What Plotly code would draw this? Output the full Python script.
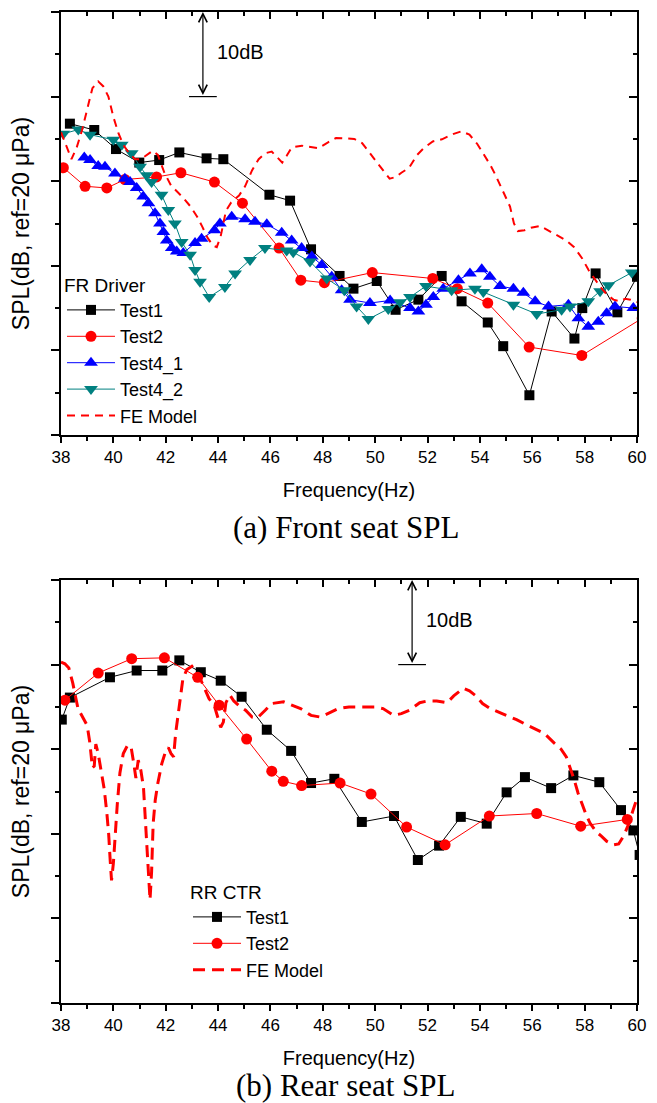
import plotly.graph_objects as go

# ---------------- data: (a) front seat ----------------
a_t1_f = [38.34, 39.27, 40.10, 40.99, 41.75, 42.52, 43.56, 44.20, 45.96, 46.75, 47.55, 48.64, 49.17,
          50.06, 50.78, 51.65, 52.54, 53.30, 54.30, 54.89, 55.89, 56.74, 57.61, 57.91, 58.42, 59.25, 60.0]
a_t1_s = [76.8, 76.05, 73.8, 72.2, 72.5, 73.4, 72.7, 72.6, 68.4, 67.7, 61.95, 58.8, 57.3,
          58.2, 54.8, 56.0, 58.8, 55.8, 53.3, 50.5, 44.7, 54.6, 51.4, 55.0, 59.1, 54.5, 58.7]

a_t2_f = [38.09, 38.92, 39.75, 40.44, 41.65, 42.58, 43.86, 44.93, 46.33, 47.16, 48.06, 49.89,
          52.20, 53.14, 54.30, 55.88, 57.89, 60.2]
a_t2_s = [71.6, 69.4, 69.2, 70.2, 70.5, 71.0, 69.9, 67.4, 62.1, 58.3, 58.0, 59.2,
          58.5, 57.3, 55.6, 50.4, 49.4, 53.8]

a_t41_f = [38.89, 39.11, 39.42, 39.68, 40.06, 40.44, 40.64, 40.89, 41.14, 41.34, 41.59, 41.78, 41.91,
           42.04, 42.23, 42.42, 42.67, 43.12, 43.37, 43.86, 44.07, 44.52, 45.03, 45.41, 45.86, 46.43,
           46.81, 47.19, 47.58, 47.96, 48.34, 48.72, 49.04, 49.80, 50.57, 51.33, 51.65, 51.94, 52.22,
           52.60, 53.18, 53.62, 54.07, 54.38, 54.77, 55.28, 55.66, 56.11, 56.62, 57.38, 57.76, 58.14,
           58.52, 58.84, 59.16, 59.86]
a_t41_s = [72.8, 72.5, 71.8, 71.7, 70.9, 70.3, 69.9, 69.2, 68.2, 67.4, 66.2, 65.0, 64.0,
           63.0, 62.1, 61.7, 61.5, 62.7, 63.2, 64.2, 65.0, 65.8, 65.5, 65.2, 64.9, 63.9,
           63.0, 62.1, 61.1, 60.1, 58.7, 57.1, 56.0, 55.6, 55.9, 55.0, 54.6, 55.4, 56.3,
           57.3, 58.3, 59.1, 59.6, 58.7, 57.6, 57.3, 56.8, 55.8, 55.2, 55.4, 53.8, 52.8,
           53.4, 54.4, 55.2, 55.0]

a_t42_f = [38.09, 38.66, 39.11, 40.00, 40.32, 40.70, 41.02, 41.27, 41.46, 41.84, 42.10, 42.35, 42.61,
           42.93, 43.12, 43.31, 43.66, 44.26, 44.65, 45.22, 45.79, 46.62, 46.87, 47.51, 48.15, 48.82,
           49.29, 49.74, 50.50, 50.95, 51.33, 51.94, 52.92, 53.81, 54.13, 55.28, 56.17, 57.12, 57.44,
           58.14, 58.59, 58.91, 59.80]
a_t42_s = [75.6, 76.1, 75.5, 74.9, 74.3, 73.3, 71.7, 70.7, 69.9, 68.4, 66.6, 65.0, 62.8,
           61.3, 59.5, 58.1, 56.3, 57.5, 59.1, 60.7, 62.1, 61.8, 61.6, 60.5, 58.5, 57.1,
           55.2, 53.7, 54.9, 55.7, 56.3, 57.6, 57.1, 57.3, 56.9, 55.4, 54.3, 54.8, 55.2,
           55.8, 57.0, 57.7, 59.2]

a_fe_f = [38.0, 38.2, 38.4, 38.6, 38.8, 39.0, 39.2, 39.42, 39.62, 39.81, 40.0, 40.19, 40.38, 40.6, 40.83,
          41.05, 41.3, 41.5, 41.7, 41.95, 42.2, 42.4, 42.65, 42.95, 43.2, 43.4, 43.6, 43.8, 43.95, 44.1,
          44.3, 44.5, 44.8, 45.03, 45.3, 45.55, 45.8, 46.05, 46.25, 46.45, 46.62, 46.81, 47.2, 47.83,
          48.2, 48.5, 49.2, 49.5, 49.7, 50.0, 50.3, 50.55, 50.8, 51.0, 51.3, 51.6, 51.85, 52.2, 52.55,
          53.0, 53.3, 53.6, 53.9, 54.2, 54.4, 54.6, 54.8, 55.0, 55.15, 55.3, 55.45, 55.7, 55.95, 56.3,
          56.6, 56.95, 57.3, 57.6, 57.9, 58.15, 58.35, 58.6, 58.85, 59.1, 59.35, 59.55, 59.75, 60.0]
a_fe_s = [75.8, 74.3, 72.6, 74.0, 76.0, 78.5, 81.0, 81.8, 81.2, 80.0, 77.6, 75.7, 74.3, 73.3, 72.6,
          72.6, 73.2, 73.6, 73.1, 71.0, 69.5, 68.9, 68.1, 67.0, 65.8, 64.6, 63.3, 62.4, 62.2, 63.5,
          66.5, 67.5, 68.3, 69.4, 71.3, 72.6, 73.3, 73.5, 72.9, 72.2, 73.0, 74.0, 74.2, 73.9,
          74.6, 75.1, 75.0, 74.5, 73.7, 72.5, 71.3, 70.3, 70.5, 71.0, 71.6, 73.1, 73.9, 74.7, 74.95,
          75.6, 75.9, 75.5, 74.4, 72.9, 71.9, 70.7, 69.3, 68.1, 67.0, 65.0, 64.1, 64.2, 64.5, 64.7,
          64.2, 63.6, 63.0, 62.2, 60.9, 59.5, 58.6, 57.5, 56.6, 56.0, 55.8, 56.1, 56.0, 55.7]

# ---------------- data: (b) rear seat ----------------
b_t1_f = [38.03, 38.34, 39.87, 40.89, 41.87, 42.52, 43.34, 44.10, 44.90, 45.86, 46.79, 47.55, 48.44,
          49.49, 50.72, 51.63, 52.44, 53.27, 54.26, 55.02, 55.72, 56.72, 57.57, 58.56, 59.39, 59.86, 60.1]
b_t1_s = [73.5, 76.1, 78.5, 79.3, 79.3, 80.5, 79.1, 78.1, 76.2, 72.3, 69.8, 66.0, 66.5,
          61.4, 62.1, 56.9, 58.6, 62.0, 61.2, 64.9, 66.7, 65.4, 66.9, 66.1, 62.8, 60.4, 57.5]

b_t2_f = [38.15, 39.42, 40.70, 41.95, 43.22, 44.04, 45.09, 46.05, 46.49, 47.19, 48.66, 49.84,
          51.20, 52.67, 54.36, 56.17, 57.85, 59.63]
b_t2_s = [75.8, 79.0, 80.7, 80.8, 78.5, 75.2, 71.2, 67.4, 66.2, 65.7, 66.0, 64.7,
          60.8, 58.7, 62.1, 62.4, 60.9, 61.7]

b_fe_f = [38.0, 38.15, 38.3, 38.45, 38.65, 38.85, 39.0, 39.1, 39.2, 39.27, 39.33, 39.42, 39.55, 39.65,
          39.75, 39.82, 39.88, 39.93, 40.0, 40.07, 40.15, 40.25, 40.38, 40.55, 40.68, 40.78, 40.86,
          40.95, 41.05, 41.15, 41.22, 41.28, 41.34, 41.40, 41.46, 41.52, 41.6, 41.7, 41.85, 41.97,
          42.1, 42.2, 42.3, 42.38, 42.47, 42.55, 42.65, 42.8, 43.0, 43.24, 43.43, 43.65, 43.85, 43.97,
          44.1, 44.2, 44.3, 44.45, 44.6, 44.85, 45.05, 45.3, 45.5, 45.8, 46.05, 46.5, 46.85, 47.15,
          47.55, 47.9, 48.25, 48.6, 49.0, 49.3, 49.7, 50.0, 50.3, 50.7, 51.0, 51.3, 51.7, 52.0, 52.35,
          52.75, 53.0, 53.37, 53.6, 53.85, 54.1, 54.4, 54.85, 55.1, 55.4, 55.9, 56.15, 56.45, 56.85,
          57.1, 57.3, 57.45, 57.6, 57.75, 57.9, 58.05, 58.2, 58.45, 58.65, 58.85, 59.1, 59.3, 59.5,
          59.7, 59.85, 60.0]
b_fe_s = [80.3, 80.1, 79.6, 77.8, 74.8, 73.7, 72.8, 70.8, 67.8, 68.0, 70.6, 69.5, 67.0, 65.3,
          62.5, 60.0, 56.8, 54.5, 56.5, 60.3, 63.5, 67.2, 69.5, 70.5, 70.2, 68.3, 66.6,
          68.7, 67.5, 65.5, 62.0, 58.5, 55.5, 52.2, 55.5, 61.2, 64.0, 66.0, 68.3, 69.5,
          70.2, 69.5, 69.1, 71.9, 74.0, 76.2, 78.2, 79.4, 79.8, 78.9, 77.6, 76.0, 75.2, 74.0,
          72.6, 73.2, 75.5, 76.4, 75.7, 75.0, 74.6, 73.8, 73.7, 74.6, 75.4, 75.6, 75.2, 74.8,
          74.0, 73.8, 74.3, 74.8, 75.0, 75.0, 75.0, 75.0, 74.8, 74.0, 74.2, 74.6, 75.5, 75.7, 75.7,
          75.5, 76.3, 77.2, 76.9, 76.3, 75.4, 74.8, 74.2, 73.9, 73.5, 72.7, 72.3, 71.9, 70.7,
          70.0, 69.1, 67.8, 66.4, 64.8, 63.5, 62.3, 61.3, 60.2, 59.7, 59.1, 58.7, 58.8, 59.8,
          61.3, 62.8, 64.2]

x_range = [38, 60]
y_range = [40, 90]
x_ticks = [38, 40, 42, 44, 46, 48, 50, 52, 54, 56, 58, 60]

# annotation positions (data coords)
a_arrow_f, b_arrow_f = 43.42, 51.41
arrow_lo, arrow_hi = 80, 90
bar_half = 0.53

FONT = "Liberation Sans"
W, H = 657, 1103
xdom = [61 / W, 637 / W]
ydom_a = [1 - 435 / H, 1 - 12 / H]
ydom_b = [1 - 1003 / H, 1 - 580 / H]

fig = go.Figure()

def add(x, y, name, color, symbol, size, xa, ya, leg, dash=None, lw=1, mode="lines+markers"):
    fig.add_trace(go.Scatter(
        x=x, y=y, name=name, mode=mode, xaxis=xa, yaxis=ya, legend=leg,
        line=dict(color=color, width=lw, dash=dash),
        marker=dict(symbol=symbol, size=size, color=color, line=dict(width=0)),
    ))

add(a_t1_f, a_t1_s, "Test1", "black", "square", 10, "x", "y", "legend")
add(a_t2_f, a_t2_s, "Test2", "red", "circle", 11, "x", "y", "legend")
add(a_t41_f, a_t41_s, "Test4_1", "blue", "triangle-up", 12, "x", "y", "legend")
add(a_t42_f, a_t42_s, "Test4_2", "#008080", "triangle-down", 12, "x", "y", "legend")
add(a_fe_f, a_fe_s, "FE Model", "red", None, 0, "x", "y", "legend", dash="8px,6px", lw=2, mode="lines")

add(b_t1_f, b_t1_s, "Test1", "black", "square", 10, "x2", "y2", "legend2")
add(b_t2_f, b_t2_s, "Test2", "red", "circle", 11, "x2", "y2", "legend2")
add(b_fe_f, b_fe_s, "FE Model", "red", None, 0, "x2", "y2", "legend2", dash="12px,7px", lw=3, mode="lines")

# dummy traces so the mirrored (inward-tick) axes are drawn
for xa, ya in (("x3", "y3"), ("x4", "y4")):
    fig.add_trace(go.Scatter(x=[None], y=[None], xaxis=xa, yaxis=ya, showlegend=False, hoverinfo="skip"))

def xax(anchor, title, **kw):
    d = dict(domain=xdom, anchor=anchor, range=x_range, tickvals=x_ticks, ticks="outside", ticklen=6,
             tickwidth=1.5, tickcolor="black", showline=True, linewidth=1.5, linecolor="black",
             showgrid=False, zeroline=False, automargin=False,
             tickfont=dict(family=FONT, size=17, color="black"),
             minor=dict(dtick=1, tick0=38, ticks="outside", ticklen=4, tickwidth=1.5, tickcolor="black", showgrid=False),
             title=dict(text=title, font=dict(family=FONT, size=20, color="black"), standoff=17))
    d.update(kw)
    return d

def yax(anchor, dom, title):
    return dict(domain=dom, anchor=anchor, range=y_range, dtick=10, tick0=40, ticks="outside", ticklen=8,
                tickwidth=1.5, tickcolor="black", showline=True, linewidth=1.5, linecolor="black",
                showgrid=False, zeroline=False, showticklabels=False, automargin=False,
                minor=dict(dtick=5, tick0=40, ticks="outside", ticklen=4, tickwidth=1.5, tickcolor="black", showgrid=False),
                title=dict(text=title, font=dict(family=FONT, size=23, color="black"), standoff=15))

def xmir(over, anchor):
    return dict(overlaying=over, anchor=anchor, side="top", range=x_range, tickvals=x_ticks, ticks="inside",
                ticklen=7, tickwidth=1.5, tickcolor="black", showline=True, linewidth=1.5, linecolor="black",
                showgrid=False, zeroline=False, showticklabels=False, automargin=False,
                minor=dict(dtick=1, tick0=38, ticks="inside", ticklen=4, tickwidth=1.5, tickcolor="black", showgrid=False))

def ymir(over, anchor):
    return dict(overlaying=over, anchor=anchor, side="right", range=y_range, dtick=10, tick0=40, ticks="inside",
                ticklen=8, tickwidth=1.5, tickcolor="black", showline=True, linewidth=1.5, linecolor="black",
                showgrid=False, zeroline=False, showticklabels=False, automargin=False,
                minor=dict(dtick=5, tick0=40, ticks="inside", ticklen=4, tickwidth=1.5, tickcolor="black", showgrid=False))

ytitle = "SPL(dB, ref=20 μPa)"
legfont = dict(family=FONT, size=18, color="black")
legtitle = dict(family=FONT, size=19, color="black")

fig.update_layout(
    width=W, height=H, margin=dict(l=0, r=0, t=0, b=0, autoexpand=False),
    paper_bgcolor="white", plot_bgcolor="rgba(0,0,0,0)",
    font=dict(family=FONT, color="black"),
    xaxis=xax("y", "Frequency(Hz)"),
    yaxis=yax("x", ydom_a, ytitle),
    xaxis2=xax("y2", "Frequency(Hz)"),
    yaxis2=yax("x2", ydom_b, ytitle),
    xaxis3=xmir("x", "y3"),
    yaxis3=ymir("y", "x3"),
    xaxis4=xmir("x2", "y4"),
    yaxis4=ymir("y2", "x4"),
    legend=dict(x=62 / W, y=1 - 267 / H, xanchor="left", yanchor="top", bgcolor="rgba(0,0,0,0)",
                font=legfont, title=dict(text="FR Driver", font=legtitle), tracegroupgap=0, itemwidth=48),
    legend2=dict(x=188 / W, y=1 - 874 / H, xanchor="left", yanchor="top", bgcolor="rgba(0,0,0,0)",
                 font=legfont, title=dict(text="RR CTR", font=legtitle), tracegroupgap=0, itemwidth=48),
    showlegend=True,
)

# 10 dB scale arrows
for xa, ya, f in (("x", "y", a_arrow_f), ("x2", "y2", b_arrow_f)):
    fig.add_annotation(x=f, y=arrow_hi, ax=f, ay=arrow_lo, xref=xa, yref=ya, axref=xa, ayref=ya,
                       text="", showarrow=True, arrowside="end+start", arrowhead=5, startarrowhead=5,
                       arrowsize=1.4, startarrowsize=1.4, arrowwidth=1.2, arrowcolor="black",
                       standoff=0, startstandoff=0)
    fig.add_shape(type="line", xref=xa, yref=ya, x0=f - bar_half, x1=f + bar_half, y0=arrow_lo, y1=arrow_lo,
                  line=dict(color="black", width=1.2))
    fig.add_annotation(x=f + 0.45, y=85.3, xref=xa, yref=ya, text="10dB", showarrow=False, xanchor="left",
                       yanchor="middle", font=dict(family=FONT, size=20, color="black"))

# captions
fig.add_annotation(x=346 / W, y=1 - 528 / H, xref="paper", yref="paper", text="(a) Front seat SPL",
                   showarrow=False, yanchor="middle", font=dict(family="Liberation Serif", size=31, color="black"))
fig.add_annotation(x=346 / W, y=1 - 1085 / H, xref="paper", yref="paper", text="(b) Rear seat SPL",
                   showarrow=False, yanchor="middle", font=dict(family="Liberation Serif", size=31, color="black"))

fig.write_html("out.html")
